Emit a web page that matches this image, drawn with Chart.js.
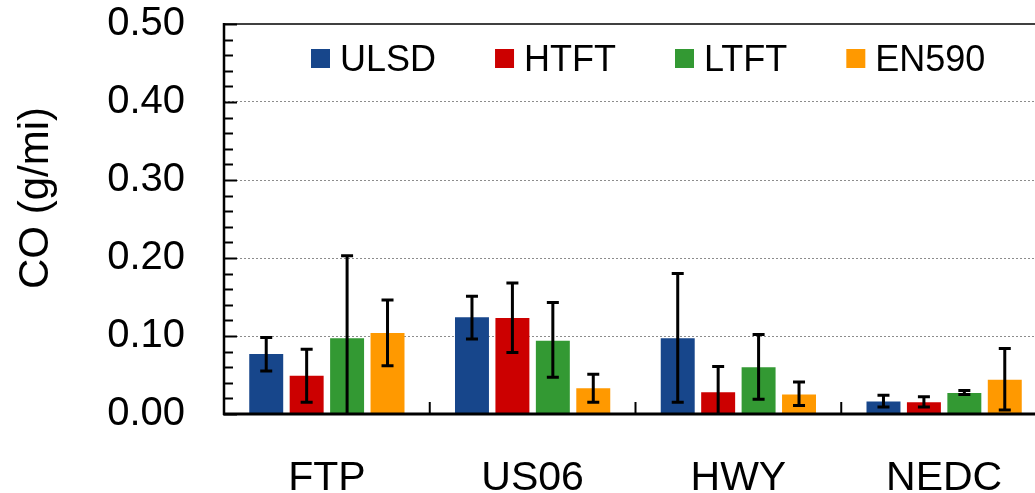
<!DOCTYPE html>
<html>
<head>
<meta charset="utf-8">
<script src="https://cdn.jsdelivr.net/npm/chart.js@4"></script>
<style>
  html, body { margin: 0; padding: 0; background: #fff; overflow: hidden; }
  #wrap { width: 1035px; height: 493px; overflow: hidden; }
</style>
</head>
<body>
<div id="wrap"><canvas id="coChart" width="1060" height="493"></canvas></div>
<script>
// 類別與數據
const categories = ['FTP', 'US06', 'HWY', 'NEDC'];
const seriesNames = ['ULSD', 'HTFT', 'LTFT', 'EN590'];

const ulsd = [0.077, 0.124, 0.097, 0.016];
const htft = [0.049, 0.123, 0.028, 0.015];
const ltft = [0.097, 0.094, 0.060, 0.027];
const en590 = [0.104, 0.033, 0.025, 0.044];

// 誤差線 (下限 / 上限)
const ulsdLo = [0.055, 0.096, 0.015, 0.009];
const ulsdHi = [0.098, 0.151, 0.180, 0.024];
const htftLo = [0.015, 0.079, -0.005, 0.009];
const htftHi = [0.083, 0.168, 0.061, 0.022];
const ltftLo = [-0.005, 0.047, 0.019, 0.025];
const ltftHi = [0.203, 0.143, 0.102, 0.030];
const en590Lo = [0.062, 0.015, 0.011, 0.005];
const en590Hi = [0.146, 0.051, 0.041, 0.084];

const yTicks = [0, 0.1, 0.2, 0.3, 0.4, 0.5];
const yTitle = 'CO (g/mi)';

const colors = ['#17468b', '#cc0000', '#339933', '#ff9900'];
const FONT = "'Liberation Sans', Arial, sans-serif";

const errLo = [ulsdLo, htftLo, ltftLo, en590Lo];
const errHi = [ulsdHi, htftHi, ltftHi, en590Hi];

// 自訂繪製: 軸線、刻度、誤差線、圖例、y軸標題
const decorPlugin = {
    id: 'decor',
    afterDatasetsDraw(chart) {
        const ctx = chart.ctx;
        const area = chart.chartArea;
        const y = chart.scales.y;
        // 誤差線
        ctx.save();
        ctx.beginPath();
        ctx.rect(area.left, area.top, area.right - area.left, area.bottom - area.top);
        ctx.clip();
        ctx.strokeStyle = '#000';
        ctx.lineWidth = 3;
        chart.data.datasets.forEach((ds, di) => {
            const meta = chart.getDatasetMeta(di);
            meta.data.forEach((bar, i) => {
                const yl = y.getPixelForValue(errLo[di][i]);
                const yh = y.getPixelForValue(errHi[di][i]);
                ctx.beginPath();
                ctx.moveTo(bar.x, yl); ctx.lineTo(bar.x, yh);
                ctx.moveTo(bar.x - 6, yl); ctx.lineTo(bar.x + 6, yl);
                ctx.moveTo(bar.x - 6, yh); ctx.lineTo(bar.x + 6, yh);
                ctx.stroke();
            });
        });
        ctx.restore();
    },
    afterDraw(chart) {
        const ctx = chart.ctx;
        const area = chart.chartArea;
        const x = chart.scales.x;
        const y = chart.scales.y;
        ctx.save();
        ctx.strokeStyle = '#000';
        // 上框線
        ctx.lineWidth = 1.5;
        ctx.beginPath();
        ctx.moveTo(area.left, area.top); ctx.lineTo(area.right, area.top);
        ctx.stroke();
        // 左軸
        ctx.lineWidth = 2.5;
        ctx.beginPath();
        ctx.moveTo(area.left, area.top - 1); ctx.lineTo(area.left, area.bottom + 1);
        ctx.stroke();
        // 下軸
        ctx.lineWidth = 3;
        ctx.beginPath();
        ctx.moveTo(area.left - 1, area.bottom); ctx.lineTo(area.right, area.bottom);
        ctx.stroke();
        // y軸刻度 (向內)
        ctx.lineWidth = 2;
        for (let v = 0; v <= 0.5001; v += 0.02) {
            const py = Math.round(y.getPixelForValue(v)) + 0.5;
            const major = Math.abs(v * 10 - Math.round(v * 10)) < 0.001;
            ctx.beginPath();
            ctx.moveTo(area.left, py); ctx.lineTo(area.left + (major ? 13 : 9), py);
            ctx.stroke();
        }
        // x軸分隔刻度
        for (let i = 0; i < categories.length - 1; i++) {
            const px = (x.getPixelForTick(i) + x.getPixelForTick(i + 1)) / 2;
            ctx.beginPath();
            ctx.moveTo(px, area.bottom); ctx.lineTo(px, area.bottom - 12);
            ctx.stroke();
        }
        // 圖例
        ctx.font = '36px ' + FONT;
        ctx.textBaseline = 'alphabetic';
        ctx.textAlign = 'left';
        let lx = 311;
        chart.data.datasets.forEach((ds, di) => {
            ctx.fillStyle = ds.backgroundColor;
            ctx.fillRect(lx, 49, 19, 19);
            ctx.fillStyle = '#000';
            ctx.fillText(ds.label, lx + 29, 70.5);
            lx += 29 + ctx.measureText(ds.label).width + 59;
        });
        // y軸標題
        ctx.translate(36, 198);
        ctx.rotate(-Math.PI / 2);
        ctx.font = '42px ' + FONT;
        ctx.textAlign = 'center';
        ctx.textBaseline = 'middle';
        ctx.fillText(yTitle, 0, 0);
        ctx.restore();
    }
};

const seriesData = [ulsd, htft, ltft, en590];

const ctx = document.getElementById('coChart').getContext('2d');
new Chart(ctx, {
    type: 'bar',
    data: {
        labels: categories,
        datasets: seriesNames.map((name, i) => ({
            label: name,
            data: seriesData[i],
            backgroundColor: colors[i],
            borderWidth: 0,
            categoryPercentage: 0.786,
            barPercentage: 0.84
        }))
    },
    options: {
        responsive: false,
        animation: false,
        layout: { padding: { top: 24, right: 13, left: 0, bottom: 0 } },
        plugins: {
            legend: { display: false },
            tooltip: { enabled: false }
        },
        scales: {
            x: {
                grid: { display: false, drawTicks: false },
                border: { display: false },
                ticks: {
                    color: '#000',
                    font: { family: FONT, size: 41 },
                    padding: 40
                },
                afterFit: scale => {
                    scale.height = 79;
                    scale.paddingLeft = 0; scale.paddingRight = 0;
                }
            },
            y: {
                min: 0,
                max: 0.5,
                afterBuildTicks: scale => {
                    scale.ticks = yTicks.map(v => ({ value: v }));
                },
                ticks: {
                    color: '#000',
                    font: { family: FONT, size: 40 },
                    padding: 39,
                    callback: v => v.toFixed(2)
                },
                grid: {
                    drawTicks: false,
                    lineWidth: 1,
                    color: c => (c.tick && (c.tick.value === 0 || c.tick.value === 0.5)) ? 'rgba(0,0,0,0)' : '#8c8c8c'
                },
                border: { display: false, dash: [2, 2] },
                afterFit: scale => {
                    scale.width = 224;
                    scale.paddingTop = 0; scale.paddingBottom = 0;
                }
            }
        }
    },
    plugins: [decorPlugin]
});
</script>
</body>
</html>
